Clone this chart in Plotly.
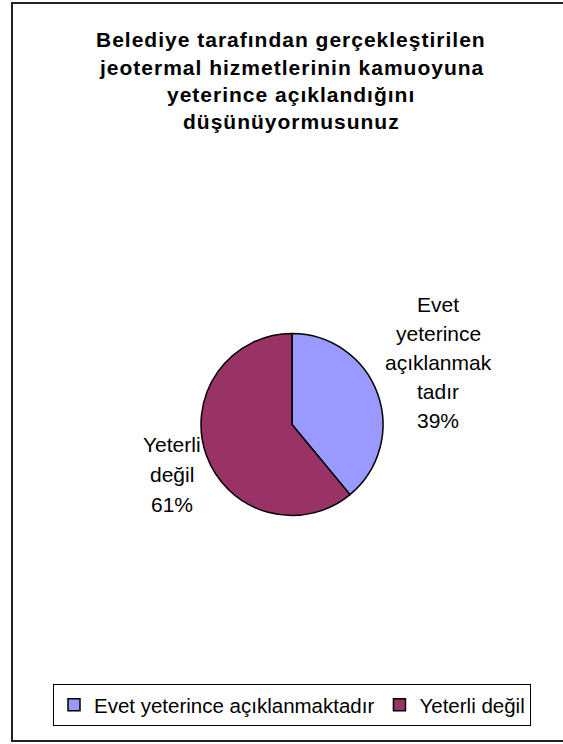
import plotly.graph_objects as go

# ---- data ----
categories = ["Evet yeterince açıklanmaktadır", "Yeterli değil"]
label_lines = [["Evet", "yeterince", "açıklanmak", "tadır"], ["Yeterli", "değil"]]
values = [39, 61]
colors = ["#9999FF", "#993366"]
title_lines = [
    "Belediye tarafından gerçekleştirilen",
    "jeotermal hizmetlerinin kamuoyuna",
    "yeterince açıklandığını",
    "düşünüyormusunuz",
]

W, H = 563, 744
FONT = "Liberation Sans, Arial, sans-serif"


def px(x):
    return x / W


def py(y):
    return 1 - y / H


fig = go.Figure()
fig.add_trace(go.Pie(
    labels=categories,
    values=values,
    sort=False,
    direction="clockwise",
    rotation=0,
    marker=dict(colors=colors, line=dict(color="#000000", width=1.5)),
    textinfo="none",
    hoverinfo="label+percent",
    domain=dict(x=[px(201), px(383)], y=[py(516), py(333)]),
    showlegend=True,
))

total = sum(values)
pct = [f"{round(v / total * 100)}%" for v in values]

# data-label layout: (center x, first line center y, line step)
label_layout = [(438, 304.7, 29), (172, 444.4, 30)]
annotations = []
for (lx, ly, step), lines, p in zip(label_layout, label_lines, pct):
    for i, line in enumerate(lines + [p]):
        annotations.append(dict(
            x=px(lx), y=py(ly + i * step), xref="paper", yref="paper",
            text=line, showarrow=False,
            font=dict(family=FONT, size=21, color="#000000"),
            xanchor="center", yanchor="middle", align="center",
        ))

title_step = 27.3
for i, line in enumerate(title_lines):
    annotations.append(dict(
        x=px(291), y=py(40 + i * title_step), xref="paper", yref="paper",
        text=f"<span style='letter-spacing:1px'><b>{line}</b></span>",
        showarrow=False,
        font=dict(family=FONT, size=21, color="#000000"),
        xanchor="center", yanchor="middle", align="center",
    ))

fig.update_layout(
    width=W, height=H,
    margin=dict(l=0, r=0, t=0, b=0),
    paper_bgcolor="#FFFFFF",
    plot_bgcolor="#FFFFFF",
    font=dict(family=FONT, size=21, color="#000000"),
    annotations=annotations,
    legend=dict(
        orientation="h",
        x=px(292), xanchor="center",
        y=py(726), yanchor="bottom",
        bordercolor="#000000", borderwidth=1,
        font=dict(family=FONT, size=20.5, color="#000000"),
        itemwidth=30,
        traceorder="normal",
    ),
    shapes=[dict(
        type="rect", xref="paper", yref="paper",
        x0=px(12), x1=px(W + 10), y0=py(741), y1=py(3),
        line=dict(color="#222222", width=2),
        fillcolor="rgba(0,0,0,0)",
    )],
)

fig.write_html(
    "out.html",
    config={"displayModeBar": False},
    post_script="document.body.style.margin='0';document.body.style.overflow='hidden';",
)
